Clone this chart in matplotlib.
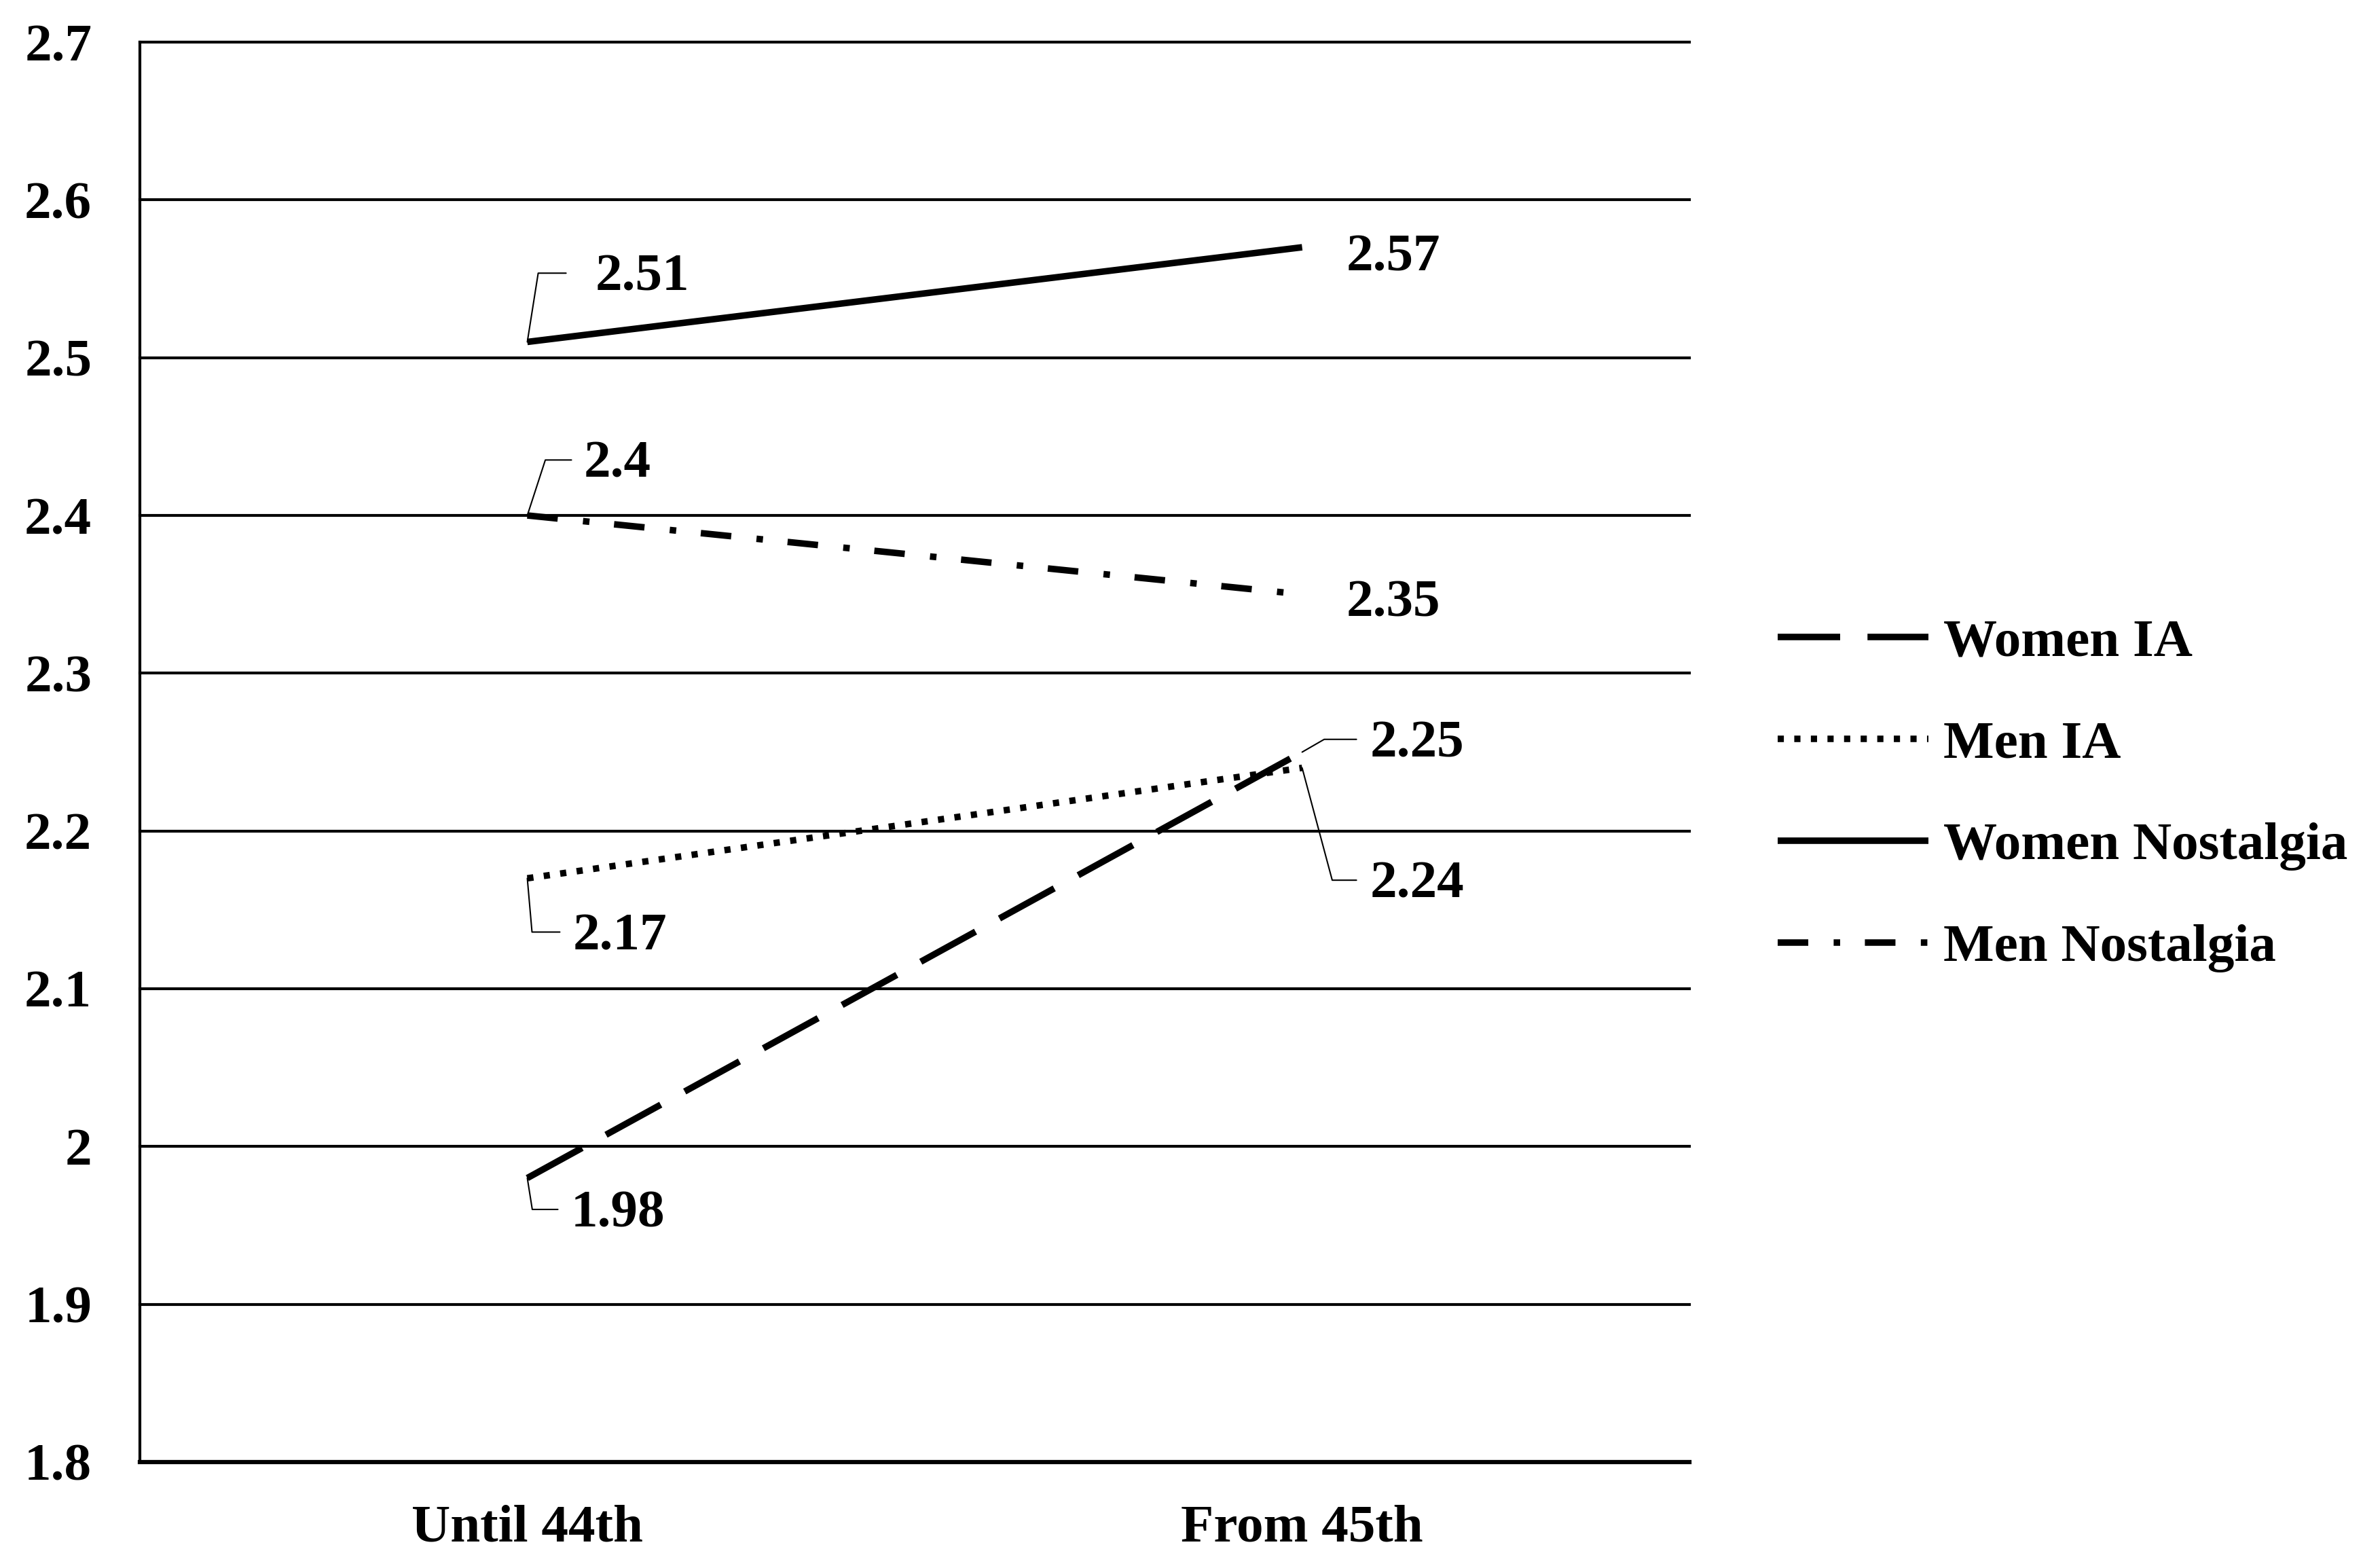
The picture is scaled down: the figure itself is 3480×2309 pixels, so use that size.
import matplotlib.pyplot as plt

# Values
periods = ["Until 44th", "From 45th"]
series_names = ["Women IA", "Men IA", "Women Nostalgia", "Men Nostalgia"]
women_ia = [1.98, 2.25]
men_ia = [2.17, 2.24]
women_nostalgia = [2.51, 2.57]
men_nostalgia = [2.4, 2.35]
y_ticks = [1.8, 1.9, 2.0, 2.1, 2.2, 2.3, 2.4, 2.5, 2.6, 2.7]
y_tick_labels = ["1.8", "1.9", "2", "2.1", "2.2", "2.3", "2.4", "2.5", "2.6", "2.7"]

plt.rcParams['font.family'] = ['Liberation Serif', 'DejaVu Serif']
plt.rcParams['font.weight'] = 'bold'

fig = plt.figure(figsize=(11.6, 2309 / 300), dpi=300)
ax = fig.add_axes([0.0592, 0.0676, 0.6558, 0.9055])

x = list(range(len(periods)))
all_series = [women_ia, men_ia, women_nostalgia, men_nostalgia]
# dash patterns in units of line width (Excel-like long dash, round dot, solid, dash-dot)
styles = [(0, (9.6, 4.2)), (0, (0.95, 1.6)), '-', (0, (4.7, 3.9, 1.0, 3.8))]

lines = []
for values, name, ls in zip(all_series, series_names, styles):
    ln, = ax.plot(x, values, color='black', linewidth=2.3, linestyle=ls,
                  label=name, solid_capstyle='butt', dash_capstyle='butt')
    lines.append(ln)

# data labels: (series, point, dx pt, dy pt, leader angle or None, leader gap pt)
label_layout = [
    (2, 0, 24.0, 22.6, 81, 8.3),
    (2, 1, 15.6, -3.7, None, 0),
    (3, 0, 19.9, 17.9, 72, 2.3),
    (3, 1, 15.6, -3.4, None, 0),
    (0, 1, 24.0, 2.8, 30, 2.8),
    (1, 1, 24.0, -41.4, -75, 2.8),
    (1, 0, 16.1, -20.7, -85, 2.6),
    (0, 0, 15.4, -12.8, -81, 2.6),
]
for s, i, dx, dy, angle, gap in label_layout:
    val = all_series[s][i]
    arrow = None
    if angle is not None:
        arrow = dict(arrowstyle='-', color='black', lw=0.5, shrinkA=gap, shrinkB=0,
                     relpos=(0, 0.6),
                     connectionstyle=f'angle,angleA=0,angleB={angle},rad=0')
    ax.annotate(f"{val:g}", xy=(x[i], val), xytext=(dx, dy), textcoords='offset points',
                ha='left', va='center', fontsize=19, fontweight='bold',
                arrowprops=arrow)

ax.set_xlim(-0.5, 1.5)
ax.set_ylim(1.8, 2.7)
ax.set_xticks(x)
ax.set_xticklabels(periods, fontsize=19, fontweight='bold')
ax.set_yticks(y_ticks)
ax.set_yticklabels(y_tick_labels, fontsize=19, fontweight='bold')
ax.tick_params(axis='both', length=0)
ax.tick_params(axis='y', pad=17)
ax.tick_params(axis='x', pad=15)

ax.yaxis.grid(True, color='black', linewidth=1.0)
for gl in ax.get_ygridlines():
    gl.set_clip_on(False)
ax.set_axisbelow(True)

ax.spines['top'].set_visible(False)
ax.spines['right'].set_visible(False)
ax.spines['left'].set_linewidth(1.0)
ax.spines['bottom'].set_linewidth(1.5)

ax.legend(handles=lines, loc='center left', bbox_to_anchor=(0.7523, 0.4928),
          bbox_transform=fig.transFigure, frameon=False, borderpad=0, borderaxespad=0,
          handlelength=2.8, handletextpad=0.28, labelspacing=0.98,
          prop={'size': 19, 'weight': 'bold'})

fig.savefig("out.png", dpi=300, facecolor='white')
